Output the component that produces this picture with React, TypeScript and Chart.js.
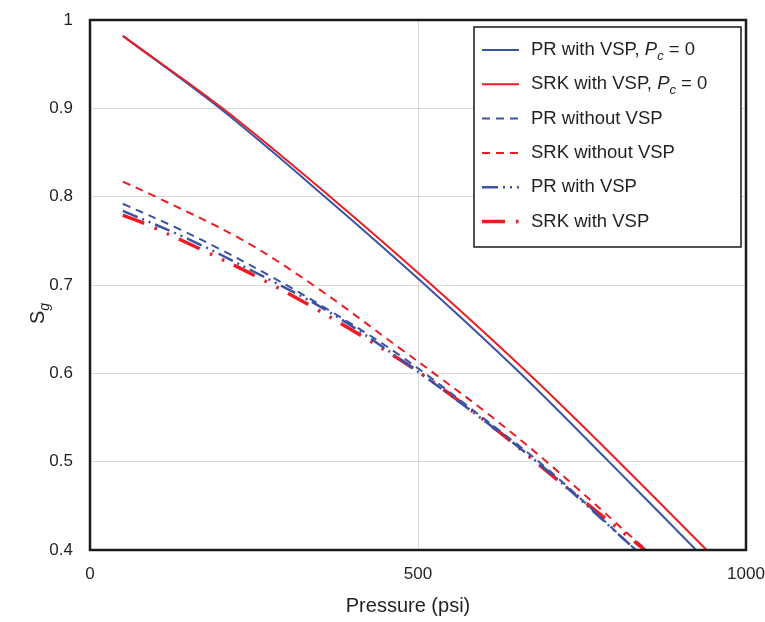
import React, { useEffect, useRef } from "react";
import { Chart, registerables } from "chart.js";

Chart.register(...registerables);

const FONT = '"Liberation Sans", Arial, Helvetica, sans-serif';
const TEXT = "#231f20";
const BLUE = "#3a53a4";
const RED = "#ed1c24";
const GRID = "#d9d9d9";

// Gas saturation S_g against pressure (psi) for each model
const prVspPc0P = [50, 198, 358, 511, 656, 791, 924];
const prVspPc0Sg = [0.982, 0.9, 0.8, 0.7, 0.6, 0.5, 0.4];
const srkVspPc0P = [50, 202, 366, 521, 668, 806, 940];
const srkVspPc0Sg = [0.982, 0.9, 0.8, 0.7, 0.6, 0.5, 0.4];
const prNoVspP = [50, 137, 197, 275, 361, 473, 600, 700, 832];
const prNoVspSg = [0.792, 0.763, 0.741, 0.71, 0.673, 0.62, 0.549, 0.49, 0.4];
const srkNoVspP = [50, 100, 230, 340, 473, 528, 600, 696, 848];
const srkNoVspSg = [0.817, 0.8, 0.752, 0.7, 0.628, 0.598, 0.558, 0.5, 0.4];
const prVspP = [50, 150, 250, 361, 473, 600, 700, 832];
const prVspSg = [0.784, 0.752, 0.715, 0.671, 0.616, 0.547, 0.488, 0.4];
const srkVspP = [50, 88, 170, 250, 330, 408, 484, 553, 630, 700, 770, 846];
const srkVspSg = [0.779, 0.768, 0.74, 0.711, 0.679, 0.645, 0.61, 0.574, 0.53, 0.487, 0.445, 0.4];

const xTicks = [0, 500, 1000];
const yTicks = [0.4, 0.5, 0.6, 0.7, 0.8, 0.9, 1];

const xTitle = "Pressure (psi)";

type Style = { color: string; width: number; dash: number[] };

const styles: Style[] = [
  { color: BLUE, width: 2, dash: [] },
  { color: RED, width: 2, dash: [] },
  { color: BLUE, width: 2, dash: [8, 6] },
  { color: RED, width: 2, dash: [8, 6] },
  { color: BLUE, width: 2.5, dash: [16, 5, 2, 5, 2, 5] },
  { color: RED, width: 3.5, dash: [23, 11, 2.5, 11, 2.5, 11] },
];

// legend rows: plain text, optionally followed by "P_c = 0"
const legendLabels = [
  "PR with VSP, ",
  "SRK with VSP, ",
  "PR without VSP",
  "SRK without VSP",
  "PR with VSP",
  "SRK with VSP",
];
const legendHasPc = [true, true, false, false, false, false];

const pairs = (xs: number[], ys: number[]) => xs.map((x, i) => ({ x, y: ys[i] }));

const seriesData = [
  pairs(prVspPc0P, prVspPc0Sg),
  pairs(srkVspPc0P, srkVspPc0Sg),
  pairs(prNoVspP, prNoVspSg),
  pairs(srkNoVspP, srkNoVspSg),
  pairs(prVspP, prVspSg),
  pairs(srkVspP, srkVspSg),
];

const decorations = {
  id: "decorations",
  afterDraw(chart: any) {
    const { ctx, chartArea: a } = chart;
    ctx.save();

    // plot frame
    ctx.strokeStyle = "#1a1a1a";
    ctx.lineWidth = 2.5;
    ctx.setLineDash([]);
    ctx.strokeRect(a.left, a.top, a.right - a.left, a.bottom - a.top);

    // axis titles
    ctx.fillStyle = TEXT;
    ctx.font = `20px ${FONT}`;
    ctx.textAlign = "center";
    ctx.textBaseline = "middle";
    ctx.fillText(xTitle, 408, 606);

    ctx.save();
    ctx.translate(44, 314);
    ctx.rotate(-Math.PI / 2);
    ctx.textAlign = "left";
    ctx.textBaseline = "alphabetic";
    ctx.font = `20px ${FONT}`;
    const sW = ctx.measureText("S").width;
    ctx.fillText("S", -10, 0);
    ctx.font = `italic 14px ${FONT}`;
    ctx.fillText("g", -10 + sW, 5);
    ctx.restore();

    // legend
    const bx = 474, by = 27, bw = 267, bh = 220;
    ctx.fillStyle = "#ffffff";
    ctx.fillRect(bx, by, bw, bh);
    ctx.strokeStyle = "#1a1a1a";
    ctx.lineWidth = 1.5;
    ctx.strokeRect(bx, by, bw, bh);

    legendLabels.forEach((label, i) => {
      const y = 50 + i * 34.3;
      const s = styles[i];
      ctx.strokeStyle = s.color;
      ctx.lineWidth = s.width;
      ctx.lineCap = "butt";
      ctx.setLineDash(s.dash);
      ctx.beginPath();
      ctx.moveTo(482, y);
      ctx.lineTo(519, y);
      ctx.stroke();
      ctx.setLineDash([]);

      ctx.fillStyle = TEXT;
      ctx.textAlign = "left";
      ctx.textBaseline = "middle";
      ctx.font = `18.5px ${FONT}`;
      let x = 531;
      ctx.fillText(label, x, y);
      x += ctx.measureText(label).width;
      if (legendHasPc[i]) {
        ctx.font = `italic 18.5px ${FONT}`;
        ctx.fillText("P", x, y);
        x += ctx.measureText("P").width;
        ctx.font = `italic 13px ${FONT}`;
        ctx.fillText("c", x, y + 6);
        x += ctx.measureText("c").width;
        ctx.font = `18.5px ${FONT}`;
        ctx.fillText(" = 0", x, y);
      }
    });

    ctx.restore();
  },
};

export default function App() {
  const ref = useRef<HTMLCanvasElement | null>(null);

  useEffect(() => {
    document.body.style.margin = "0";
    const canvas = ref.current;
    if (!canvas) return;

    const chart = new Chart(canvas, {
      type: "line",
      data: {
        datasets: seriesData.map((d, i) => ({
          label: legendLabels[i],
          data: d,
          borderColor: styles[i].color,
          backgroundColor: styles[i].color,
          borderWidth: styles[i].width,
          borderDash: styles[i].dash,
          borderCapStyle: "butt",
          pointRadius: 0,
          tension: 0.35,
          fill: false,
          order: i === 1 ? 0 : i + 1,
        })),
      },
      options: {
        animation: false,
        responsive: false,
        devicePixelRatio: 1,
        layout: { autoPadding: false, padding: { top: 20, right: 19, left: 0, bottom: 0 } },
        plugins: { legend: { display: false }, tooltip: { enabled: false } },
        scales: {
          x: {
            type: "linear",
            min: 0,
            max: 1000,
            afterBuildTicks: (s: any) => {
              s.ticks = xTicks.map((v) => ({ value: v }));
            },
            afterFit: (s: any) => {
              s.height = 72;
              s.paddingLeft = 0;
              s.paddingRight = 0;
            },
            ticks: {
              callback: (v: any) => String(v),
              font: { family: FONT, size: 17 },
              color: TEXT,
              padding: 14,
              maxRotation: 0,
              autoSkip: false,
            },
            grid: { color: GRID, lineWidth: 1, drawTicks: false },
            border: { display: false },
          },
          y: {
            type: "linear",
            min: 0.4,
            max: 1,
            afterBuildTicks: (s: any) => {
              s.ticks = yTicks.map((v) => ({ value: v }));
            },
            afterFit: (s: any) => {
              s.width = 90;
              s.paddingTop = 0;
              s.paddingBottom = 0;
            },
            ticks: {
              callback: (v: any) => String(Math.round(v * 10) / 10),
              font: { family: FONT, size: 17 },
              color: TEXT,
              padding: 17,
              autoSkip: false,
            },
            grid: { color: GRID, lineWidth: 1, drawTicks: false },
            border: { display: false },
          },
        },
      },
      plugins: [decorations],
    } as any);

    return () => chart.destroy();
  }, []);

  return (
    <div style={{ width: 765, height: 622, background: "#ffffff" }}>
      <canvas ref={ref} width={765} height={622} />
    </div>
  );
}
